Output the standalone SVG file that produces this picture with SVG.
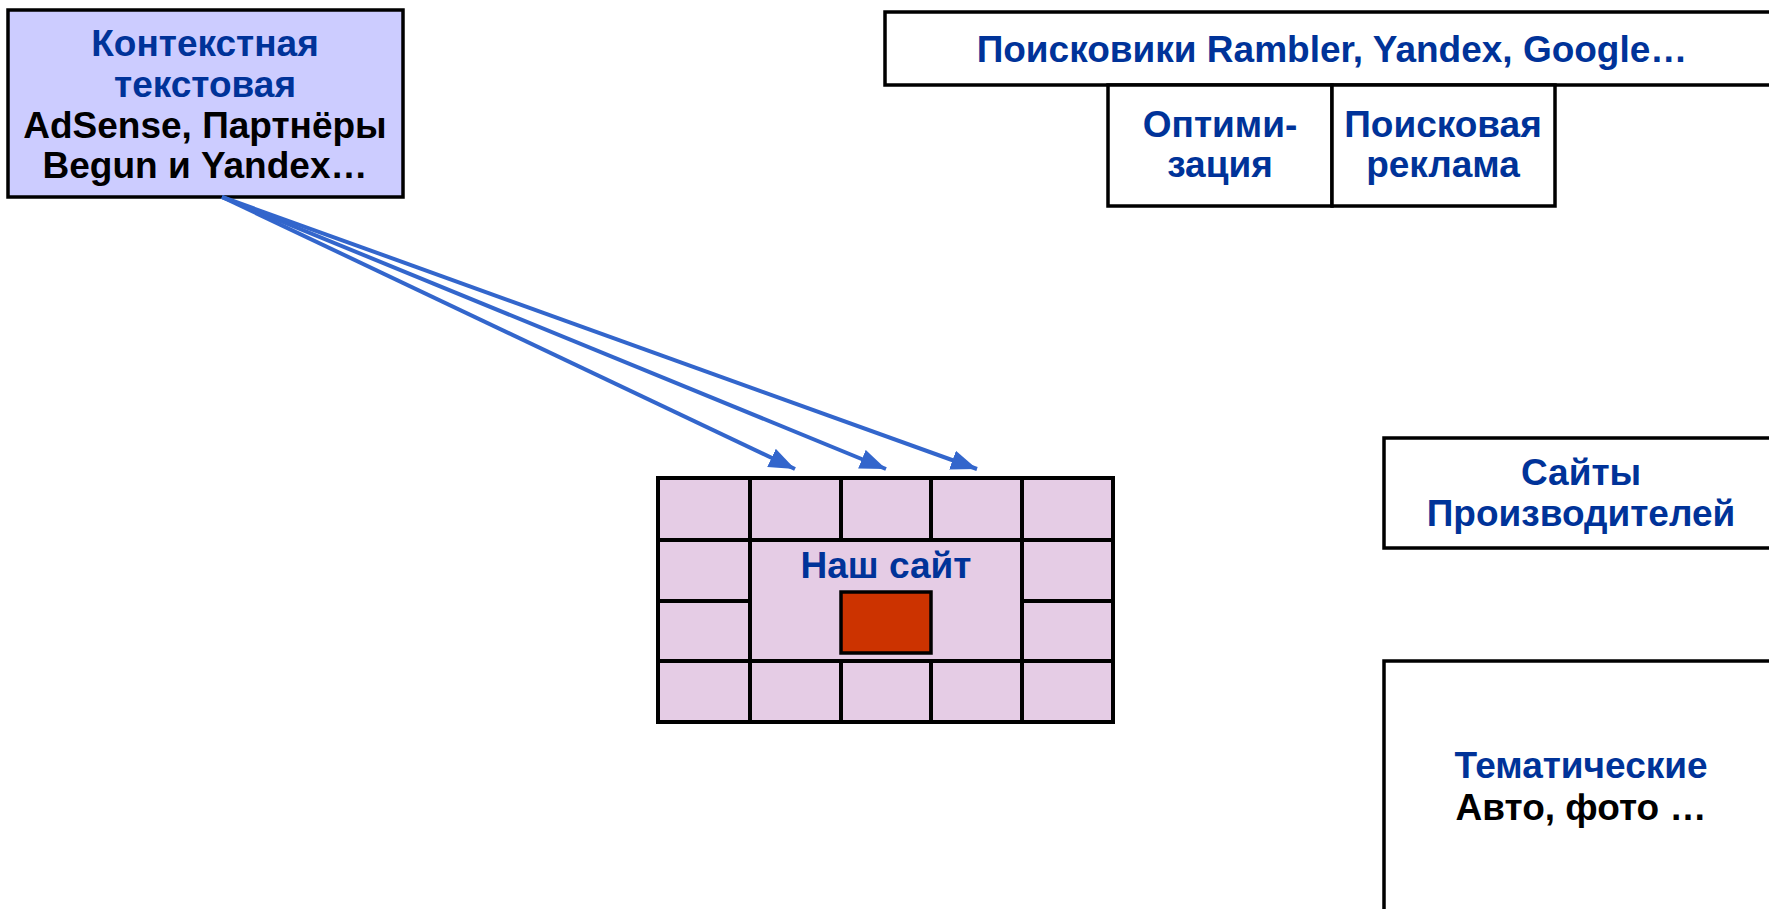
<svg xmlns="http://www.w3.org/2000/svg" width="1769" height="909" viewBox="0 0 1769 909">
<style>
.box{fill:#FFFFFF;stroke:#000000;stroke-width:3.5}
.ctx{fill:#CCCCFF;stroke:#000000;stroke-width:3.5}
.t{font-family:"Liberation Sans",Arial,sans-serif;font-weight:bold;font-size:37px;text-anchor:middle}
.b{fill:#003399}
.k{fill:#000000}
.grid{fill:none;stroke:#000000;stroke-width:4}
.arr{stroke:#3366CC;stroke-width:4;fill:none;marker-end:url(#ah)}
</style>
<defs>
<marker id="ah" markerUnits="userSpaceOnUse" markerWidth="28" markerHeight="22" refX="26" refY="10" orient="auto">
<path d="M0,0 L26,10 L0,20 z" fill="#3366CC"/>
</marker>
</defs>
<rect width="1769" height="909" fill="#FFFFFF"/>
<g id="context">
<rect class="ctx" x="8" y="10" width="395" height="187"/>
<text class="t b" x="205" y="56">Контекстная</text>
<text class="t b" x="205" y="97">текстовая</text>
<text class="t k" x="205" y="138">AdSense, Партнёры</text>
<text class="t k" x="205" y="178">Begun и Yandex…</text>
</g>
<g id="search">
<rect class="box" x="885" y="12" width="900" height="73"/>
<text class="t b" x="1332" y="62">Поисковики Rambler, Yandex, Google…</text>
</g>
<g id="optim">
<rect class="box" x="1108" y="85" width="224" height="121"/>
<text class="t b" x="1220" y="137">Оптими-</text>
<text class="t b" x="1220" y="177">зация</text>
</g>
<g id="searchads">
<rect class="box" x="1332" y="85" width="223" height="121"/>
<text class="t b" x="1443" y="137">Поисковая</text>
<text class="t b" x="1443" y="177">реклама</text>
</g>
<g id="site">
<rect x="658" y="478" width="455" height="244" fill="#E5CCE5"/>
<path class="grid" d="M658,478 H1113 V722 H658 Z M658,540 H1113 M658,661 H1113 M658,601 H750 M1022,601 H1113 M750,478 V722 M1022,478 V722 M841,478 V540 M931,478 V540 M841,661 V722 M931,661 V722"/>
<rect x="841" y="592" width="90" height="61" fill="#CC3300" stroke="#000000" stroke-width="3.5"/>
<text class="t b" x="886" y="578">Наш сайт</text>
</g>
<g id="makers">
<rect class="box" x="1384" y="438" width="400" height="110"/>
<text class="t b" x="1581" y="485">Сайты</text>
<text class="t b" x="1581" y="526">Производителей</text>
</g>
<g id="thematic">
<rect class="box" x="1384" y="661" width="400" height="300"/>
<text class="t b" x="1581" y="778">Тематические</text>
<text class="t k" x="1581" y="820">Авто, фото …</text>
</g>
<g id="connectors">
<line class="arr" x1="222" y1="197" x2="795" y2="469"/>
<line class="arr" x1="222" y1="197" x2="886" y2="469"/>
<line class="arr" x1="222" y1="197" x2="977" y2="469"/>
</g>
</svg>
